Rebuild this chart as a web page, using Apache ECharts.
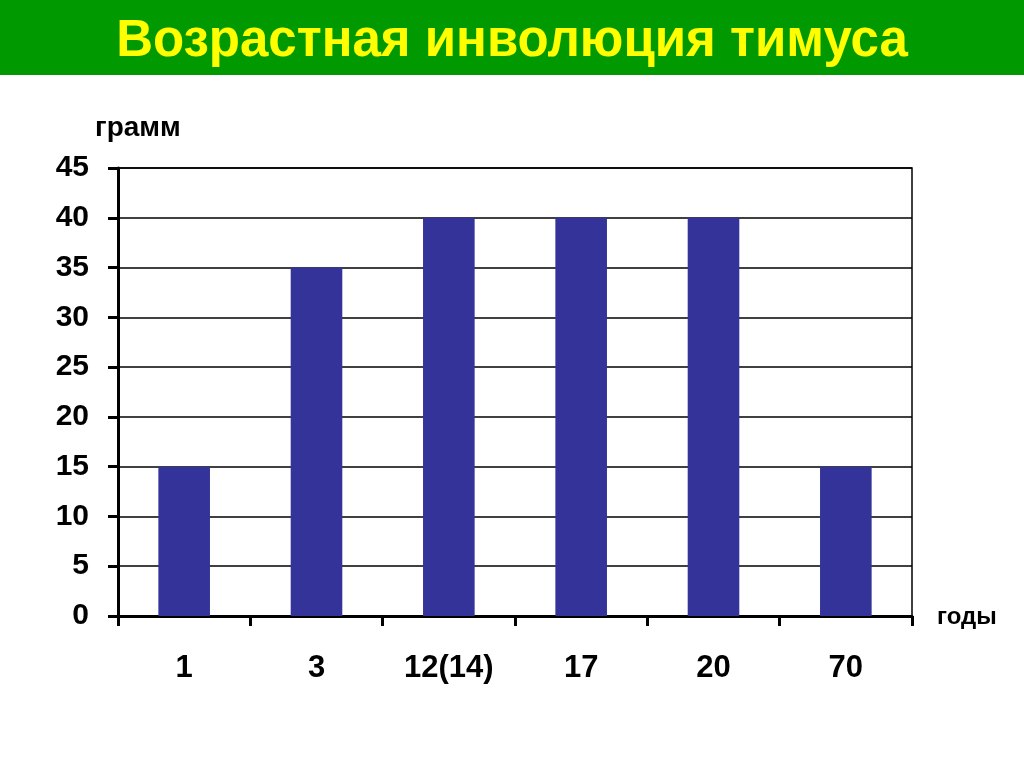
<!DOCTYPE html>
<html>
<head>
<meta charset="utf-8">
<script src="https://cdn.jsdelivr.net/npm/echarts@6/dist/echarts.min.js"></script>
<style>
html,body{margin:0;padding:0;background:#fff;}
#chart{width:1024px;height:767px;}
</style>
</head>
<body>
<div id="chart"></div>
<script>
const titleText = 'Возрастная инволюция тимуса';
const yName = 'грамм';
const xName = 'годы';
const categories = ['1', '3', '12(14)', '17', '20', '70'];
const values = [15, 35, 40, 40, 40, 15];

const FONT = '"Liberation Sans", Arial, sans-serif';
const chart = echarts.init(document.getElementById('chart'), null, {renderer: 'canvas'});
chart.setOption({
  backgroundColor: '#ffffff',
  animation: false,
  graphic: [
    {type: 'rect', left: 0, top: 0, shape: {width: 1024, height: 75}, style: {fill: '#009900'}, z: -1},
    {type: 'text', left: 95, top: 114, style: {text: yName, font: 'bold 28px ' + FONT, fill: '#000'}},
    {type: 'text', left: 937, top: 605, style: {text: xName, font: 'bold 24px ' + FONT, fill: '#000'}}
  ],
  title: {
    text: titleText,
    left: 'center',
    top: 11,
    textStyle: {color: '#ffff00', fontSize: 51, fontWeight: 'bold', fontFamily: FONT}
  },
  grid: {left: 118, right: 112, top: 168, bottom: 151, show: true, borderColor: '#000', borderWidth: 1.5},
  xAxis: {
    type: 'category',
    data: categories,
    axisLine: {lineStyle: {color: '#000', width: 3}},
    axisTick: {show: true, length: 10, lineStyle: {color: '#000', width: 3}},
    axisLabel: {color: '#000', fontSize: 31, fontWeight: 'bold', fontFamily: FONT, margin: 37}
  },
  yAxis: {
    type: 'value',
    min: 0, max: 45, interval: 5,
    axisLine: {show: true, lineStyle: {color: '#000', width: 3}},
    axisTick: {show: true, length: 10, lineStyle: {color: '#000', width: 3}},
    axisLabel: {color: '#000', fontSize: 30, fontWeight: 'bold', fontFamily: FONT, margin: 29},
    splitLine: {show: true, lineStyle: {color: '#000', width: 1.5}}
  },
  series: [{
    type: 'bar',
    data: values,
    barWidth: '39%',
    itemStyle: {color: '#333399'}
  }]
});
</script>
</body>
</html>
